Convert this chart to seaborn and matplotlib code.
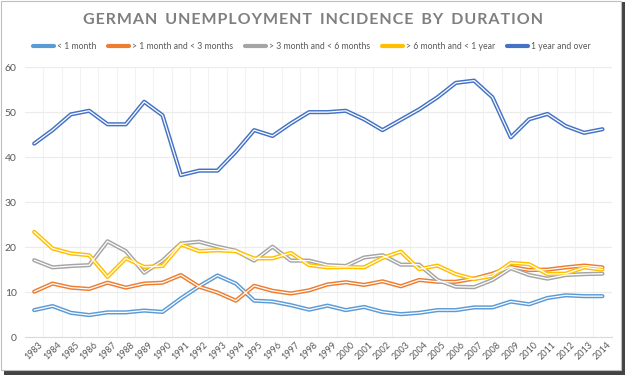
import matplotlib
matplotlib.use("Agg")
import matplotlib.pyplot as plt
import matplotlib.patches as mpatches
from matplotlib.lines import Line2D
import seaborn as sns
import pandas as pd

years = list(range(1983, 2015))

under_1_month = [6.0, 6.9, 5.4, 4.9, 5.5, 5.5, 5.9, 5.6, 8.6, 11.3, 13.7, 11.9, 8.1, 7.9, 7.1, 6.1,
                 7.0, 6.0, 6.7, 5.6, 5.1, 5.4, 6.0, 6.0, 6.6, 6.6, 7.9, 7.3, 8.7, 9.3, 9.1, 9.1]
m1_to_3 = [10.1, 11.9, 11.0, 10.7, 12.1, 11.0, 11.9, 12.1, 13.8, 11.2, 9.9, 8.1, 11.4, 10.3, 9.7, 10.4,
           11.7, 12.2, 11.6, 12.4, 11.3, 12.7, 12.3, 12.3, 13.0, 14.1, 15.6, 14.9, 15.0, 15.5, 15.9, 15.5]
m3_to_6 = [17.1, 15.5, 15.8, 16.0, 21.3, 19.1, 14.3, 17.0, 20.8, 21.2, 20.1, 19.2, 17.0, 20.1, 17.0, 17.0,
           16.0, 15.8, 17.7, 18.2, 16.1, 16.1, 12.7, 11.2, 11.1, 12.7, 15.3, 13.8, 13.0, 13.8, 14.0, 14.1]
m6_to_12 = [23.4, 19.7, 18.6, 18.2, 13.4, 17.5, 15.6, 15.8, 20.6, 19.1, 19.3, 19.1, 17.5, 17.5, 18.7, 16.0,
            15.5, 15.6, 15.5, 17.6, 19.0, 15.1, 15.9, 14.0, 12.9, 13.6, 16.5, 16.2, 14.0, 14.1, 15.5, 15.0]
year_and_over = [43.0, 46.0, 49.5, 50.3, 47.3, 47.3, 52.3, 49.3, 36.0, 37.0, 37.0, 41.2, 46.0, 44.7, 47.5, 50.0,
                 50.0, 50.3, 48.4, 46.0, 48.3, 50.6, 53.3, 56.5, 57.0, 53.3, 44.4, 48.4, 49.6, 46.9, 45.4, 46.2]

series_names = ["< 1 month", "> 1 month and < 3 months", "> 3 month and < 6 months",
                "> 6 month and < 1 year", "1 year and over"]
series_values = [under_1_month, m1_to_3, m3_to_6, m6_to_12, year_and_over]
colors = ["#5B9BD5", "#ED7D31", "#A5A5A5", "#FFC000", "#4472C4"]
title = "GERMAN UNEMPLOYMENT INCIDENCE BY DURATION"

df = pd.DataFrame({name: vals for name, vals in zip(series_names, series_values)})
df["Year"] = years
long_df = df.melt(id_vars="Year", var_name="Series", value_name="Value")

sns.set_style("white")
plt.rcParams["font.family"] = ["Lato", "DejaVu Sans"]

fig = plt.figure(figsize=(6.26, 3.75), dpi=100)
ax = fig.add_axes([0.04, 0.101, 0.937, 0.72])

# Excel-style "double" line: thick colored stroke with a thin white core
sns.lineplot(data=long_df, x="Year", y="Value", hue="Series", palette=colors,
             linewidth=3.0, legend=False, ax=ax)
sns.lineplot(data=long_df, x="Year", y="Value", units="Series", estimator=None,
             color="white", linewidth=0.9, legend=False, ax=ax)

ax.set_xlim(1982.5, 2014.5)
ax.set_ylim(0, 60)
ax.set_yticks(range(0, 61, 10))
ax.set_xticks(years)
ax.set_xticklabels([str(y) for y in years], rotation=45, fontsize=6.5, color="#595959")
ax.tick_params(axis="y", labelsize=7.5, colors="#595959", length=0, pad=6)
ax.tick_params(axis="x", length=0, pad=2)
ax.set_xlabel("")
ax.set_ylabel("")

ax.yaxis.grid(True, color="#EBEBEB", linewidth=0.8)
ax.set_axisbelow(True)
for b in [y + 0.5 for y in years[:-1]]:
    ax.axvline(b, color="#F2F2F2", linewidth=0.8, zorder=0)
for s in ["top", "right", "left"]:
    ax.spines[s].set_visible(False)
ax.spines["bottom"].set_color("#D9D9D9")

# spaced-out title, width fitted to the reference (~463 px)
spaced = "\u200a".join(title).replace("\u200a \u200a", "\u2002")
t = fig.text(0.5, 0.946, spaced, ha="center", va="center", fontsize=13,
             fontweight="bold", color="#7F7F7F")
r = fig.canvas.get_renderer()
w = t.get_window_extent(renderer=r).width
t.set_fontsize(13 * 463 / w)

handles = [Line2D([0], [0], color=c, linewidth=3.0) for c in colors]
leg = fig.legend(handles, series_names, loc="center", bbox_to_anchor=(0.498, 0.877), ncol=5,
                 frameon=False, fontsize=6.2, handlelength=2.45, columnspacing=1.4,
                 handletextpad=0.3)
for txt in leg.get_texts():
    txt.set_color("#595959")

# chart frame with a small drop shadow
fig.patches.append(mpatches.Rectangle((0.007, 0.0), 0.991, 0.994, transform=fig.transFigure,
                                      facecolor="#444444", edgecolor="none", zorder=-2))
fig.patches.append(mpatches.Rectangle((0.0016, 0.013), 0.991, 0.984, transform=fig.transFigure,
                                      facecolor="white", edgecolor="#BFBFBF", linewidth=0.8, zorder=-1))

fig.savefig("out.png", dpi=100, facecolor="white")
